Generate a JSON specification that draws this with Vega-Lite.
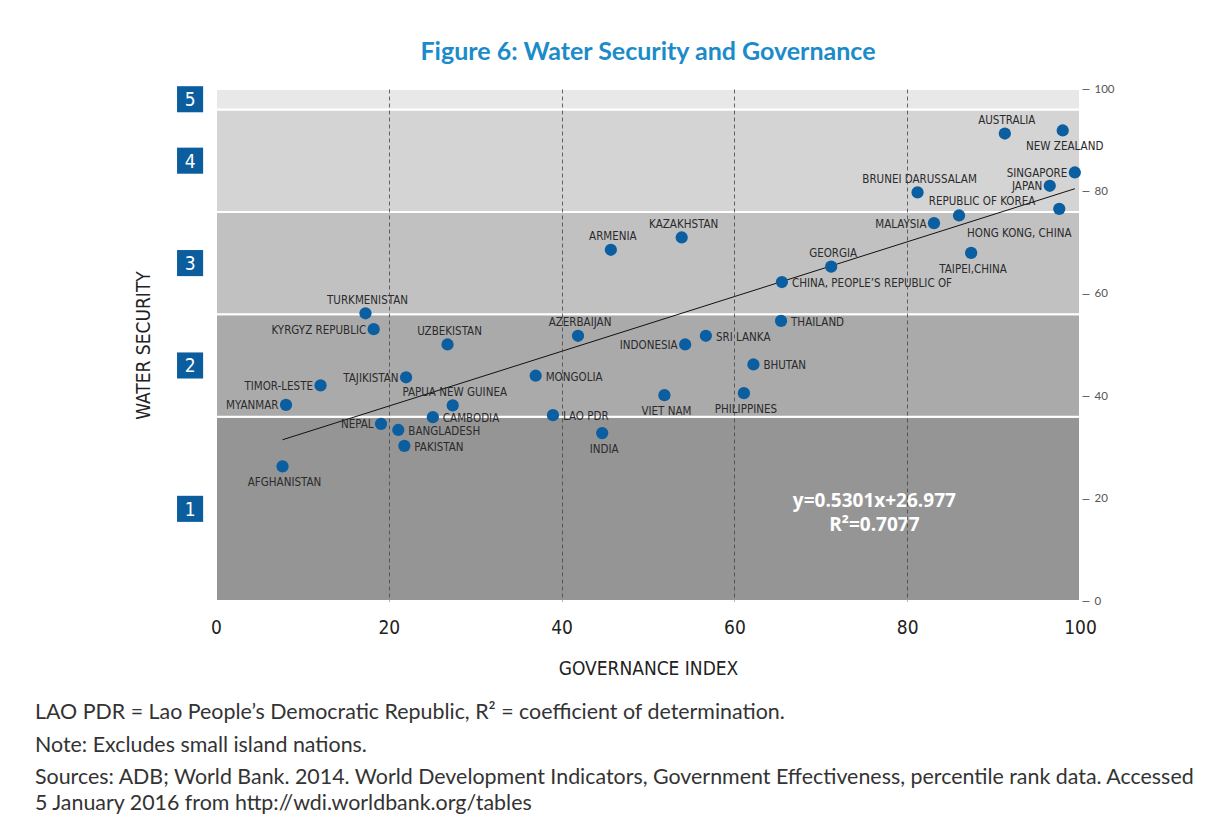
{
  "$schema": "https://vega.github.io/schema/vega-lite/v6.json",
  "background": "white",
  "padding": {"left": 35, "top": 40, "right": 0, "bottom": 0},
  "config": {"view": {"stroke": null}},
  "datasets": {
    "countries": [
      {"country": "AFGHANISTAN", "gov": 7.7, "ws": 26.3},
      {"country": "MYANMAR", "gov": 8.1, "ws": 38.3},
      {"country": "TIMOR-LESTE", "gov": 12.1, "ws": 42.1},
      {"country": "TURKMENISTAN", "gov": 17.3, "ws": 56.2},
      {"country": "KYRGYZ REPUBLIC", "gov": 18.25, "ws": 53.1},
      {"country": "NEPAL", "gov": 19.1, "ws": 34.6},
      {"country": "BANGLADESH", "gov": 21.1, "ws": 33.4},
      {"country": "PAKISTAN", "gov": 21.8, "ws": 30.3},
      {"country": "TAJIKISTAN", "gov": 22.0, "ws": 43.7},
      {"country": "CAMBODIA", "gov": 25.1, "ws": 35.9},
      {"country": "UZBEKISTAN", "gov": 26.8, "ws": 50.1},
      {"country": "PAPUA NEW GUINEA", "gov": 27.4, "ws": 38.2},
      {"country": "MONGOLIA", "gov": 37.0, "ws": 44.0},
      {"country": "LAO PDR", "gov": 39.0, "ws": 36.3},
      {"country": "AZERBAIJAN", "gov": 41.9, "ws": 51.8},
      {"country": "INDIA", "gov": 44.7, "ws": 32.8},
      {"country": "ARMENIA", "gov": 45.7, "ws": 68.6},
      {"country": "VIET NAM", "gov": 51.9, "ws": 40.2},
      {"country": "KAZAKHSTAN", "gov": 53.9, "ws": 71.0},
      {"country": "INDONESIA", "gov": 54.3, "ws": 50.1},
      {"country": "SRI LANKA", "gov": 56.7, "ws": 51.8},
      {"country": "PHILIPPINES", "gov": 61.1, "ws": 40.6},
      {"country": "BHUTAN", "gov": 62.2, "ws": 46.2},
      {"country": "THAILAND", "gov": 65.4, "ws": 54.7},
      {"country": "CHINA, PEOPLE’S REPUBLIC OF", "gov": 65.5, "ws": 62.3},
      {"country": "GEORGIA", "gov": 71.2, "ws": 65.3},
      {"country": "BRUNEI DARUSSALAM", "gov": 81.2, "ws": 79.8},
      {"country": "MALAYSIA", "gov": 83.1, "ws": 73.8},
      {"country": "REPUBLIC OF KOREA", "gov": 86.0, "ws": 75.3},
      {"country": "TAIPEI,CHINA", "gov": 87.4, "ws": 68.0},
      {"country": "AUSTRALIA", "gov": 91.3, "ws": 91.3},
      {"country": "JAPAN", "gov": 96.5, "ws": 81.1},
      {"country": "HONG KONG, CHINA", "gov": 97.6, "ws": 76.6},
      {"country": "NEW ZEALAND", "gov": 98.0, "ws": 91.9},
      {"country": "SINGAPORE", "gov": 99.4, "ws": 83.7}
    ],
    "bands": [
      {"band": "1", "lo": 0, "hi": 36},
      {"band": "2", "lo": 36, "hi": 56},
      {"band": "3", "lo": 56, "hi": 76},
      {"band": "4", "lo": 76, "hi": 96},
      {"band": "5", "lo": 96, "hi": 100}
    ],
    "equation": [
      {"line1": "y=0.5301x+26.977", "line2": "R²=0.7077"}
    ]
  },
  "title": {
    "text": ["LAO PDR = Lao People’s Democratic Republic, R² = coefficient of determination.", "Note: Excludes small island nations."],
    "subtitle": ["Sources: ADB; World Bank. 2014. World Development Indicators, Government Effectiveness, percentile rank data. Accessed", "5 January 2016 from http://wdi.worldbank.org/tables"],
    "orient": "bottom",
    "anchor": "start",
    "dx": -99,
    "offset": 24,
    "font": "Lato",
    "fontSize": 21.4,
    "fontWeight": "normal",
    "color": "#333333",
    "lineHeight": 33,
    "subtitleFont": "Lato",
    "subtitleFontSize": 21.4,
    "subtitleColor": "#333333",
    "subtitleLineHeight": 25.5,
    "subtitlePadding": 11
  },
  "vconcat": [
    {
      "width": 864,
      "height": 512,
      "title": {
        "text": "Figure 6: Water Security and Governance",
        "font": "Lato",
        "fontSize": 25,
        "fontWeight": "bold",
        "color": "#1b8bc9",
        "anchor": "middle",
        "frame": "group",
        "offset": 18
      },
      "layer": [
        {
          "data": {"name": "bands"},
          "mark": {"type": "rect", "stroke": "white", "strokeWidth": 2},
          "encoding": {
            "x": {"datum": 0, "type": "quantitative", "scale": {"domain": [0, 100], "nice": false, "zero": false},
              "axis": {"orient": "bottom", "title": "GOVERNANCE INDEX", "values": [0, 20, 40, 60, 80, 100], "labelFlush": false, "labelOverlap": false, "domain": false, "ticks": false, "labelPadding": 17, "labelFont": "Liberation Sans Narrow, DejaVu Sans Condensed, sans-serif", "labelFontSize": 19, "labelColor": "#222222", "titleFont": "Liberation Sans Narrow, DejaVu Sans Condensed, sans-serif", "titleFontSize": 19, "titleFontWeight": "normal", "titleColor": "#222222", "titlePadding": 22, "grid": true, "gridDash": [4, 3], "gridColor": "#444444", "gridWidth": 0.8, "gridOpacity": {"condition": {"test": "datum.value === 0 || datum.value === 100", "value": 0}, "value": 1}, "zindex": 1}},
            "x2": {"datum": 100},
            "y": {
              "field": "lo", "type": "quantitative",
              "scale": {"domain": [0, 100], "nice": false, "zero": false},
              "axis": {
                "orient": "left", "title": "WATER SECURITY", "labels": false, "ticks": false, "domain": false, "grid": false,
                "titleFont": "Liberation Sans Narrow, DejaVu Sans Condensed, sans-serif", "titleFontSize": 19, "titleFontWeight": "normal", "titleColor": "#222222", "titlePadding": 63
              }
            },
            "y2": {"field": "hi"},
            "color": {
              "field": "band", "type": "nominal",
              "scale": {"domain": ["1", "2", "3", "4", "5"], "range": ["#959596", "#aaaaab", "#c1c1c2", "#d4d4d5", "#e8e8e8"]},
              "legend": null
            }
          }
        },
        {
          "data": {"name": "bands"},
          "transform": [{"calculate": "(datum.lo + datum.hi) / 2", "as": "mid"}],
          "mark": {"type": "square", "filled": true, "color": "#0b5d9e", "opacity": 1, "size": 680},
          "encoding": {
            "x": {"datum": -3.0, "type": "quantitative",
              "axis": {"orient": "bottom", "title": "GOVERNANCE INDEX", "values": [0, 20, 40, 60, 80, 100], "labelFlush": false, "labelOverlap": false, "domain": false, "ticks": false, "labelPadding": 17, "labelFont": "Liberation Sans Narrow, DejaVu Sans Condensed, sans-serif", "labelFontSize": 19, "labelColor": "#222222", "titleFont": "Liberation Sans Narrow, DejaVu Sans Condensed, sans-serif", "titleFontSize": 19, "titleFontWeight": "normal", "titleColor": "#222222", "titlePadding": 22, "grid": true, "gridDash": [4, 3], "gridColor": "#444444", "gridWidth": 0.8, "gridOpacity": {"condition": {"test": "datum.value === 0 || datum.value === 100", "value": 0}, "value": 1}, "zindex": 1}},
            "y": {"field": "mid", "type": "quantitative", "axis": null}
          }
        },
        {
          "data": {"name": "bands"},
          "transform": [{"calculate": "(datum.lo + datum.hi) / 2", "as": "mid"}],
          "mark": {"type": "text", "color": "white", "font": "Liberation Sans Narrow, DejaVu Sans Condensed, sans-serif", "fontSize": 19, "baseline": "middle", "align": "center", "dy": 1},
          "encoding": {
            "x": {"datum": -3.0, "type": "quantitative",
              "axis": {"orient": "bottom", "title": "GOVERNANCE INDEX", "values": [0, 20, 40, 60, 80, 100], "labelFlush": false, "labelOverlap": false, "domain": false, "ticks": false, "labelPadding": 17, "labelFont": "Liberation Sans Narrow, DejaVu Sans Condensed, sans-serif", "labelFontSize": 19, "labelColor": "#222222", "titleFont": "Liberation Sans Narrow, DejaVu Sans Condensed, sans-serif", "titleFontSize": 19, "titleFontWeight": "normal", "titleColor": "#222222", "titlePadding": 22, "grid": true, "gridDash": [4, 3], "gridColor": "#444444", "gridWidth": 0.8, "gridOpacity": {"condition": {"test": "datum.value === 0 || datum.value === 100", "value": 0}, "value": 1}, "zindex": 1}},
            "y": {"field": "mid", "type": "quantitative", "axis": null},
            "text": {"field": "band"}
          }
        },
        {
          "data": {"name": "countries"},
          "transform": [{"regression": "ws", "on": "gov", "method": "linear"}],
          "mark": {"type": "line", "color": "#111111", "strokeWidth": 1},
          "encoding": {
            "x": {"field": "gov", "type": "quantitative",
              "axis": {"orient": "bottom", "title": "GOVERNANCE INDEX", "values": [0, 20, 40, 60, 80, 100], "labelFlush": false, "labelOverlap": false, "domain": false, "ticks": false, "labelPadding": 17, "labelFont": "Liberation Sans Narrow, DejaVu Sans Condensed, sans-serif", "labelFontSize": 19, "labelColor": "#222222", "titleFont": "Liberation Sans Narrow, DejaVu Sans Condensed, sans-serif", "titleFontSize": 19, "titleFontWeight": "normal", "titleColor": "#222222", "titlePadding": 22, "grid": true, "gridDash": [4, 3], "gridColor": "#444444", "gridWidth": 0.8, "gridOpacity": {"condition": {"test": "datum.value === 0 || datum.value === 100", "value": 0}, "value": 1}, "zindex": 1}},
            "y": {"field": "ws", "type": "quantitative", "axis": null}
          }
        },
        {
          "data": {"name": "countries"},
          "mark": {"type": "circle", "color": "#0b5fa0", "opacity": 1, "size": 150},
          "encoding": {
            "x": {"field": "gov", "type": "quantitative",
              "axis": {"orient": "bottom", "title": "GOVERNANCE INDEX", "values": [0, 20, 40, 60, 80, 100], "labelFlush": false, "labelOverlap": false, "domain": false, "ticks": false, "labelPadding": 17, "labelFont": "Liberation Sans Narrow, DejaVu Sans Condensed, sans-serif", "labelFontSize": 19, "labelColor": "#222222", "titleFont": "Liberation Sans Narrow, DejaVu Sans Condensed, sans-serif", "titleFontSize": 19, "titleFontWeight": "normal", "titleColor": "#222222", "titlePadding": 22, "grid": true, "gridDash": [4, 3], "gridColor": "#444444", "gridWidth": 0.8, "gridOpacity": {"condition": {"test": "datum.value === 0 || datum.value === 100", "value": 0}, "value": 1}, "zindex": 1}},
            "y": {
              "field": "ws", "type": "quantitative",
              "axis": {
                "orient": "right", "title": null, "values": [0, 20, 40, 60, 80, 100], "domain": false, "grid": false,
                "ticks": true, "tickSize": 7, "tickColor": "#666666", "tickWidth": 1, "offset": 2,
                "labelPadding": 5, "labelFont": "Lato", "labelFontSize": 11.5, "labelColor": "#555555"
              }
            }
          }
        },
        {
          "data": {"name": "countries"},
          "transform": [{"filter": {"field": "country", "oneOf": ["THAILAND", "SRI LANKA", "CHINA, PEOPLE’S REPUBLIC OF", "MONGOLIA", "BHUTAN", "LAO PDR", "BANGLADESH", "PAKISTAN", "CAMBODIA"]}}],
          "mark": {"type": "text", "align": "left", "baseline": "middle", "dx": 10, "dy": 2, "font": "Liberation Sans Narrow, DejaVu Sans Condensed, sans-serif", "fontSize": 11.5, "color": "#2b2b2b"},
          "encoding": {
            "x": {"field": "gov", "type": "quantitative",
              "axis": {"orient": "bottom", "title": "GOVERNANCE INDEX", "values": [0, 20, 40, 60, 80, 100], "labelFlush": false, "labelOverlap": false, "domain": false, "ticks": false, "labelPadding": 17, "labelFont": "Liberation Sans Narrow, DejaVu Sans Condensed, sans-serif", "labelFontSize": 19, "labelColor": "#222222", "titleFont": "Liberation Sans Narrow, DejaVu Sans Condensed, sans-serif", "titleFontSize": 19, "titleFontWeight": "normal", "titleColor": "#222222", "titlePadding": 22, "grid": true, "gridDash": [4, 3], "gridColor": "#444444", "gridWidth": 0.8, "gridOpacity": {"condition": {"test": "datum.value === 0 || datum.value === 100", "value": 0}, "value": 1}, "zindex": 1}},
            "y": {"field": "ws", "type": "quantitative", "axis": null},
            "text": {"field": "country"}
          }
        },
        {
          "data": {"name": "countries"},
          "transform": [{"filter": {"field": "country", "oneOf": ["KYRGYZ REPUBLIC", "TIMOR-LESTE", "MYANMAR", "TAJIKISTAN", "NEPAL", "INDONESIA", "MALAYSIA", "SINGAPORE", "JAPAN"]}}],
          "mark": {"type": "text", "align": "right", "baseline": "middle", "dx": -7.5, "dy": 1.5, "font": "Liberation Sans Narrow, DejaVu Sans Condensed, sans-serif", "fontSize": 11.5, "color": "#2b2b2b"},
          "encoding": {
            "x": {"field": "gov", "type": "quantitative",
              "axis": {"orient": "bottom", "title": "GOVERNANCE INDEX", "values": [0, 20, 40, 60, 80, 100], "labelFlush": false, "labelOverlap": false, "domain": false, "ticks": false, "labelPadding": 17, "labelFont": "Liberation Sans Narrow, DejaVu Sans Condensed, sans-serif", "labelFontSize": 19, "labelColor": "#222222", "titleFont": "Liberation Sans Narrow, DejaVu Sans Condensed, sans-serif", "titleFontSize": 19, "titleFontWeight": "normal", "titleColor": "#222222", "titlePadding": 22, "grid": true, "gridDash": [4, 3], "gridColor": "#444444", "gridWidth": 0.8, "gridOpacity": {"condition": {"test": "datum.value === 0 || datum.value === 100", "value": 0}, "value": 1}, "zindex": 1}},
            "y": {"field": "ws", "type": "quantitative", "axis": null},
            "text": {"field": "country"}
          }
        },
        {
          "data": {"name": "countries"},
          "transform": [{"filter": {"field": "country", "oneOf": ["TURKMENISTAN", "ARMENIA", "KAZAKHSTAN", "AZERBAIJAN", "UZBEKISTAN", "GEORGIA", "AUSTRALIA", "BRUNEI DARUSSALAM", "PAPUA NEW GUINEA"]}}],
          "mark": {"type": "text", "align": "center", "baseline": "middle", "dx": 2, "dy": -12.5, "font": "Liberation Sans Narrow, DejaVu Sans Condensed, sans-serif", "fontSize": 11.5, "color": "#2b2b2b"},
          "encoding": {
            "x": {"field": "gov", "type": "quantitative",
              "axis": {"orient": "bottom", "title": "GOVERNANCE INDEX", "values": [0, 20, 40, 60, 80, 100], "labelFlush": false, "labelOverlap": false, "domain": false, "ticks": false, "labelPadding": 17, "labelFont": "Liberation Sans Narrow, DejaVu Sans Condensed, sans-serif", "labelFontSize": 19, "labelColor": "#222222", "titleFont": "Liberation Sans Narrow, DejaVu Sans Condensed, sans-serif", "titleFontSize": 19, "titleFontWeight": "normal", "titleColor": "#222222", "titlePadding": 22, "grid": true, "gridDash": [4, 3], "gridColor": "#444444", "gridWidth": 0.8, "gridOpacity": {"condition": {"test": "datum.value === 0 || datum.value === 100", "value": 0}, "value": 1}, "zindex": 1}},
            "y": {"field": "ws", "type": "quantitative", "axis": null},
            "text": {"field": "country"}
          }
        },
        {
          "data": {"name": "countries"},
          "transform": [{"filter": {"field": "country", "oneOf": ["REPUBLIC OF KOREA"]}}],
          "mark": {"type": "text", "align": "center", "baseline": "middle", "dx": 23, "dy": -13, "font": "Liberation Sans Narrow, DejaVu Sans Condensed, sans-serif", "fontSize": 11.5, "color": "#2b2b2b"},
          "encoding": {
            "x": {"field": "gov", "type": "quantitative",
              "axis": {"orient": "bottom", "title": "GOVERNANCE INDEX", "values": [0, 20, 40, 60, 80, 100], "labelFlush": false, "labelOverlap": false, "domain": false, "ticks": false, "labelPadding": 17, "labelFont": "Liberation Sans Narrow, DejaVu Sans Condensed, sans-serif", "labelFontSize": 19, "labelColor": "#222222", "titleFont": "Liberation Sans Narrow, DejaVu Sans Condensed, sans-serif", "titleFontSize": 19, "titleFontWeight": "normal", "titleColor": "#222222", "titlePadding": 22, "grid": true, "gridDash": [4, 3], "gridColor": "#444444", "gridWidth": 0.8, "gridOpacity": {"condition": {"test": "datum.value === 0 || datum.value === 100", "value": 0}, "value": 1}, "zindex": 1}},
            "y": {"field": "ws", "type": "quantitative", "axis": null},
            "text": {"field": "country"}
          }
        },
        {
          "data": {"name": "countries"},
          "transform": [{"filter": {"field": "country", "oneOf": ["AFGHANISTAN", "INDIA", "VIET NAM", "PHILIPPINES", "TAIPEI,CHINA", "NEW ZEALAND"]}}],
          "mark": {"type": "text", "align": "center", "baseline": "middle", "dx": 2, "dy": 17, "font": "Liberation Sans Narrow, DejaVu Sans Condensed, sans-serif", "fontSize": 11.5, "color": "#2b2b2b"},
          "encoding": {
            "x": {"field": "gov", "type": "quantitative",
              "axis": {"orient": "bottom", "title": "GOVERNANCE INDEX", "values": [0, 20, 40, 60, 80, 100], "labelFlush": false, "labelOverlap": false, "domain": false, "ticks": false, "labelPadding": 17, "labelFont": "Liberation Sans Narrow, DejaVu Sans Condensed, sans-serif", "labelFontSize": 19, "labelColor": "#222222", "titleFont": "Liberation Sans Narrow, DejaVu Sans Condensed, sans-serif", "titleFontSize": 19, "titleFontWeight": "normal", "titleColor": "#222222", "titlePadding": 22, "grid": true, "gridDash": [4, 3], "gridColor": "#444444", "gridWidth": 0.8, "gridOpacity": {"condition": {"test": "datum.value === 0 || datum.value === 100", "value": 0}, "value": 1}, "zindex": 1}},
            "y": {"field": "ws", "type": "quantitative", "axis": null},
            "text": {"field": "country"}
          }
        },
        {
          "data": {"name": "countries"},
          "transform": [{"filter": {"field": "country", "oneOf": ["HONG KONG, CHINA"]}}],
          "mark": {"type": "text", "align": "center", "baseline": "middle", "dx": -40, "dy": 25, "font": "Liberation Sans Narrow, DejaVu Sans Condensed, sans-serif", "fontSize": 11.5, "color": "#2b2b2b"},
          "encoding": {
            "x": {"field": "gov", "type": "quantitative",
              "axis": {"orient": "bottom", "title": "GOVERNANCE INDEX", "values": [0, 20, 40, 60, 80, 100], "labelFlush": false, "labelOverlap": false, "domain": false, "ticks": false, "labelPadding": 17, "labelFont": "Liberation Sans Narrow, DejaVu Sans Condensed, sans-serif", "labelFontSize": 19, "labelColor": "#222222", "titleFont": "Liberation Sans Narrow, DejaVu Sans Condensed, sans-serif", "titleFontSize": 19, "titleFontWeight": "normal", "titleColor": "#222222", "titlePadding": 22, "grid": true, "gridDash": [4, 3], "gridColor": "#444444", "gridWidth": 0.8, "gridOpacity": {"condition": {"test": "datum.value === 0 || datum.value === 100", "value": 0}, "value": 1}, "zindex": 1}},
            "y": {"field": "ws", "type": "quantitative", "axis": null},
            "text": {"field": "country"}
          }
        },
        {
          "data": {"name": "equation"},
          "mark": {"type": "text", "align": "center", "baseline": "middle", "font": "Open Sans", "fontWeight": "bold", "fontSize": 19, "color": "white", "dy": -12},
          "encoding": {
            "x": {"datum": 76.2, "type": "quantitative",
              "axis": {"orient": "bottom", "title": "GOVERNANCE INDEX", "values": [0, 20, 40, 60, 80, 100], "labelFlush": false, "labelOverlap": false, "domain": false, "ticks": false, "labelPadding": 17, "labelFont": "Liberation Sans Narrow, DejaVu Sans Condensed, sans-serif", "labelFontSize": 19, "labelColor": "#222222", "titleFont": "Liberation Sans Narrow, DejaVu Sans Condensed, sans-serif", "titleFontSize": 19, "titleFontWeight": "normal", "titleColor": "#222222", "titlePadding": 22, "grid": true, "gridDash": [4, 3], "gridColor": "#444444", "gridWidth": 0.8, "gridOpacity": {"condition": {"test": "datum.value === 0 || datum.value === 100", "value": 0}, "value": 1}, "zindex": 1}},
            "y": {"datum": 17.2, "type": "quantitative", "axis": null},
            "text": {"field": "line1"}
          }
        },
        {
          "data": {"name": "equation"},
          "mark": {"type": "text", "align": "center", "baseline": "middle", "font": "Open Sans", "fontWeight": "bold", "fontSize": 19, "color": "white", "dy": 12},
          "encoding": {
            "x": {"datum": 76.2, "type": "quantitative",
              "axis": {"orient": "bottom", "title": "GOVERNANCE INDEX", "values": [0, 20, 40, 60, 80, 100], "labelFlush": false, "labelOverlap": false, "domain": false, "ticks": false, "labelPadding": 17, "labelFont": "Liberation Sans Narrow, DejaVu Sans Condensed, sans-serif", "labelFontSize": 19, "labelColor": "#222222", "titleFont": "Liberation Sans Narrow, DejaVu Sans Condensed, sans-serif", "titleFontSize": 19, "titleFontWeight": "normal", "titleColor": "#222222", "titlePadding": 22, "grid": true, "gridDash": [4, 3], "gridColor": "#444444", "gridWidth": 0.8, "gridOpacity": {"condition": {"test": "datum.value === 0 || datum.value === 100", "value": 0}, "value": 1}, "zindex": 1}},
            "y": {"datum": 17.2, "type": "quantitative", "axis": null},
            "text": {"field": "line2"}
          }
        }
      ]
    }
  ]
}
